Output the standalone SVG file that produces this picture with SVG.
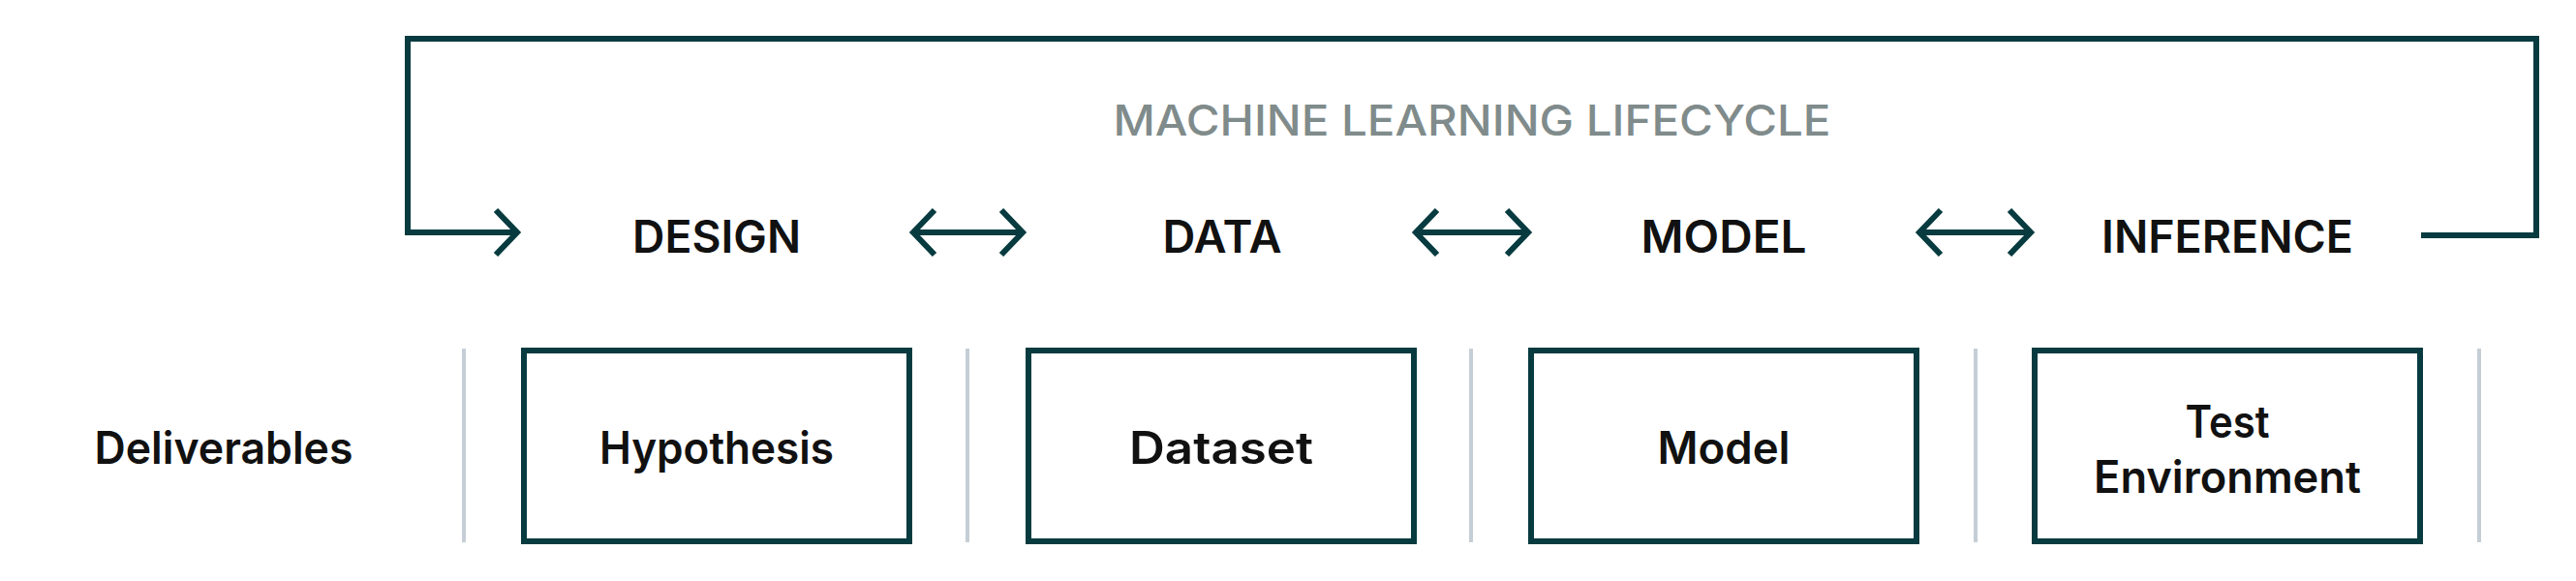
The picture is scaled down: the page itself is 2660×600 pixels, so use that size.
<svg xmlns="http://www.w3.org/2000/svg" width="2660" height="600" viewBox="0 0 2660 600">
<style>
.ln{fill:none;stroke:#073b40;stroke-width:6}
.box{fill:#fff;stroke:#073b40;stroke-width:6}
.sep{stroke:#c5ced6;stroke-width:4}
.t{font-family:Inter,"Liberation Sans",sans-serif;font-weight:600;font-size:46px;fill:#111;text-anchor:middle}
.title{font-family:Inter,"Liberation Sans",sans-serif;font-weight:500;font-size:44px;fill:#808b8b;text-anchor:middle}
</style>
<rect width="2660" height="600" fill="#fff"/>
<g id="connectors">
<polyline class="ln" points="2500,243 2619,243 2619,40 421,40 421,240 534,240"/>
<polyline class="ln" points="512,217 534,240 512,263"/>
<g id="arrow1"><line class="ln" x1="943" y1="240" x2="1056" y2="240"/><polyline class="ln" points="965,217 943,240 965,263"/><polyline class="ln" points="1034,217 1056,240 1034,263"/></g>
<g id="arrow2"><line class="ln" x1="1462" y1="240" x2="1578" y2="240"/><polyline class="ln" points="1484,217 1462,240 1484,263"/><polyline class="ln" points="1556,217 1578,240 1556,263"/></g>
<g id="arrow3"><line class="ln" x1="1982" y1="240" x2="2097" y2="240"/><polyline class="ln" points="2004,217 1982,240 2004,263"/><polyline class="ln" points="2075,217 2097,240 2075,263"/></g>
</g>
<text class="title" x="1520" y="140" textLength="741" lengthAdjust="spacingAndGlyphs">MACHINE LEARNING LIFECYCLE</text>
<g id="stages">
<text class="t" x="740" y="261" textLength="174" lengthAdjust="spacingAndGlyphs">DESIGN</text>
<text class="t" x="1262" y="261" textLength="123" lengthAdjust="spacingAndGlyphs">DATA</text>
<text class="t" x="1780" y="261" textLength="171" lengthAdjust="spacingAndGlyphs">MODEL</text>
<text class="t" x="2300" y="261" textLength="260" lengthAdjust="spacingAndGlyphs">INFERENCE</text>
</g>
<text class="t" x="231" y="479" textLength="267" lengthAdjust="spacingAndGlyphs">Deliverables</text>
<g id="separators">
<line class="sep" x1="479" y1="360" x2="479" y2="560"/>
<line class="sep" x1="999" y1="360" x2="999" y2="560"/>
<line class="sep" x1="1519" y1="360" x2="1519" y2="560"/>
<line class="sep" x1="2040" y1="360" x2="2040" y2="560"/>
<line class="sep" x1="2560" y1="360" x2="2560" y2="560"/>
</g>
<g id="hypothesis"><rect class="box" x="541" y="362" width="398" height="197"/><text class="t" x="740" y="479" textLength="242" lengthAdjust="spacingAndGlyphs">Hypothesis</text></g>
<g id="dataset"><rect class="box" x="1062" y="362" width="398" height="197"/><text class="t" x="1261" y="479" textLength="190" lengthAdjust="spacingAndGlyphs">Dataset</text></g>
<g id="model"><rect class="box" x="1581" y="362" width="398" height="197"/><text class="t" x="1780" y="479" textLength="137" lengthAdjust="spacingAndGlyphs">Model</text></g>
<g id="testenv"><rect class="box" x="2101" y="362" width="398" height="197"/><text class="t" x="2300" y="452" textLength="87" lengthAdjust="spacingAndGlyphs">Test</text><text class="t" x="2300" y="509" textLength="276" lengthAdjust="spacingAndGlyphs">Environment</text></g>
</svg>
